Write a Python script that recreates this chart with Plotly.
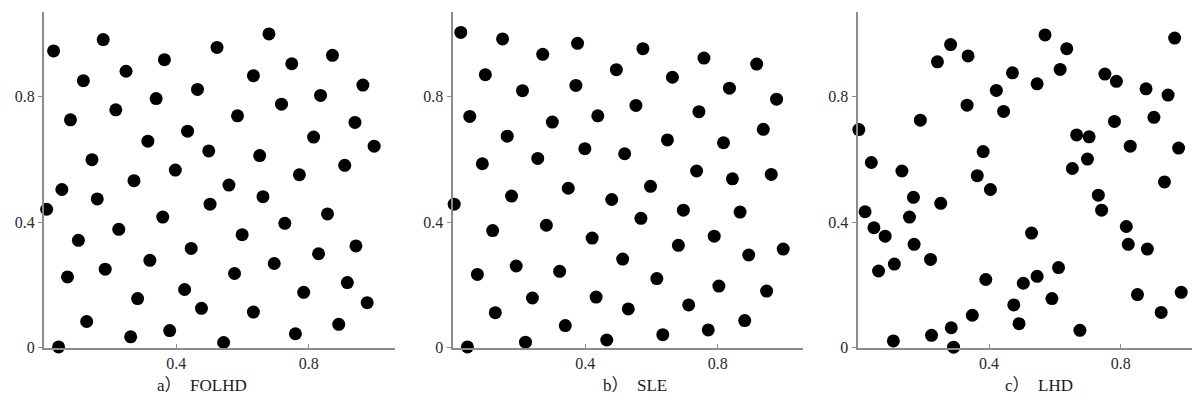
import plotly.graph_objects as go

# ---- data ----
folhd_x = [0.029, 0.179, 0.364, 0.523, 0.680, 0.749, 0.872, 0.119, 0.248, 0.633,
           0.464, 0.964, 0.339, 0.836, 0.217, 0.080, 0.585, 0.718, 0.940, 0.434,
           0.314, 0.815, 0.998, 0.145, 0.498, 0.652, 0.397, 0.272, 0.772, 0.909,
           0.559, 0.054, 0.662, 0.161, 0.502, 0.008, 0.359, 0.857, 0.728, 0.226,
           0.104, 0.599, 0.445, 0.943, 0.830, 0.320, 0.696, 0.071, 0.185, 0.576,
           0.425, 0.917, 0.785, 0.283, 0.476, 0.633, 0.977, 0.129, 0.891, 0.380,
           0.760, 0.262, 0.543, 0.044]
folhd_y = [0.946, 0.982, 0.918, 0.957, 1.000, 0.905, 0.932, 0.851, 0.881, 0.867,
           0.823, 0.837, 0.794, 0.804, 0.758, 0.726, 0.739, 0.776, 0.718, 0.690,
           0.658, 0.671, 0.642, 0.599, 0.627, 0.612, 0.566, 0.532, 0.551, 0.581,
           0.518, 0.504, 0.481, 0.474, 0.457, 0.441, 0.416, 0.426, 0.396, 0.377,
           0.342, 0.360, 0.316, 0.324, 0.299, 0.278, 0.268, 0.225, 0.250, 0.236,
           0.185, 0.207, 0.176, 0.156, 0.125, 0.113, 0.143, 0.083, 0.074, 0.054,
           0.044, 0.034, 0.016, 0.002]

sle_x = [0.025, 0.151, 0.377, 0.272, 0.574, 0.758, 0.917, 0.099, 0.494, 0.663,
         0.372, 0.211, 0.835, 0.977, 0.553, 0.052, 0.438, 0.743, 0.301, 0.165,
         0.937, 0.648, 0.399, 0.817, 0.519, 0.090, 0.257, 0.736, 0.844, 0.961,
         0.349, 0.597, 0.178, 0.480, 0.005, 0.696, 0.867, 0.568, 0.283, 0.121,
         0.789, 0.421, 0.681, 0.997, 0.893, 0.513, 0.192, 0.075, 0.323, 0.616,
         0.803, 0.947, 0.241, 0.433, 0.129, 0.530, 0.712, 0.340, 0.881, 0.771,
         0.634, 0.220, 0.465, 0.045]
sle_y = [1.005, 0.984, 0.970, 0.935, 0.953, 0.923, 0.904, 0.870, 0.886, 0.862,
         0.836, 0.819, 0.827, 0.792, 0.772, 0.737, 0.739, 0.752, 0.719, 0.674,
         0.696, 0.662, 0.634, 0.653, 0.618, 0.586, 0.603, 0.563, 0.538, 0.552,
         0.508, 0.514, 0.483, 0.472, 0.457, 0.438, 0.432, 0.412, 0.390, 0.373,
         0.355, 0.349, 0.326, 0.314, 0.295, 0.282, 0.260, 0.233, 0.243, 0.220,
         0.196, 0.180, 0.158, 0.161, 0.111, 0.123, 0.136, 0.070, 0.086, 0.056,
         0.041, 0.017, 0.024, 0.002]

lhd_x = [0.570, 0.964, 0.283, 0.336, 0.636, 0.243, 0.616, 0.471, 0.752, 0.787,
         0.546, 0.877, 0.422, 0.944, 0.333, 0.444, 0.901, 0.191, 0.781, 0.004,
         0.666, 0.704, 0.829, 0.976, 0.382, 0.699, 0.042, 0.135, 0.653, 0.364,
         0.933, 0.404, 0.170, 0.732, 0.253, 0.023, 0.742, 0.158, 0.050, 0.084,
         0.817, 0.529, 0.172, 0.823, 0.881, 0.222, 0.112, 0.064, 0.611, 0.546,
         0.390, 0.504, 0.851, 0.984, 0.591, 0.475, 0.923, 0.349, 0.491, 0.285,
         0.676, 0.225, 0.109, 0.292]
lhd_y = [0.997, 0.987, 0.966, 0.930, 0.953, 0.911, 0.887, 0.876, 0.872, 0.849,
         0.841, 0.825, 0.820, 0.805, 0.773, 0.753, 0.734, 0.725, 0.721, 0.695,
         0.678, 0.672, 0.642, 0.636, 0.625, 0.601, 0.590, 0.563, 0.571, 0.548,
         0.528, 0.504, 0.479, 0.486, 0.460, 0.433, 0.438, 0.416, 0.382, 0.355,
         0.386, 0.365, 0.329, 0.329, 0.314, 0.281, 0.266, 0.244, 0.255, 0.227,
         0.217, 0.205, 0.169, 0.176, 0.156, 0.136, 0.112, 0.103, 0.076, 0.063,
         0.055, 0.039, 0.021, 0.001]

captions = ["a\uff09  FOLHD", "b\uff09  SLE", "c\uff09  LHD"]
x_tick_vals = [0.4, 0.8]
x_tick_text = ["0.4", "0.8"]
y_tick_vals = [0, 0.4, 0.8]
y_tick_text = ["0", "0.4", "0.8"]

# ---- layout geometry ----
W, H = 1200, 402
panels = [
    # (data x, data y, left px, right px, px per unit)
    (folhd_x, folhd_y, 36.0, 386.7, 330.8),
    (sle_x, sle_y, 444.5, 795.0, 331.7),
    (lhd_x, lhd_y, 849.5, 1200.0, 329.0),
]
y_bottom_px, y_top_px, y_scale = 347.3, 4.0, 320.75
caption_x_px = [194, 627, 1031]
caption_y_px = 386

font_fam = "Liberation Serif, Noto Sans CJK SC, serif"
axis_col = "#8c8c8c"
text_col = "#2a2a2a"

fig = go.Figure()
layout = dict(
    width=W, height=H, margin=dict(l=0, r=0, t=0, b=0),
    plot_bgcolor="white", paper_bgcolor="white", showlegend=False,
    font=dict(family=font_fam, size=16, color=text_col),
)
annotations = []
for i, (xs, ys, lpx, rpx, sx) in enumerate(panels, start=1):
    xa = "x" if i == 1 else f"x{i}"
    ya = "y" if i == 1 else f"y{i}"
    fig.add_trace(go.Scatter(
        x=xs, y=ys, mode="markers", xaxis=xa, yaxis=ya, cliponaxis=False,
        marker=dict(size=13, color="black", line=dict(width=0)),
    ))
    xkey = "xaxis" if i == 1 else f"xaxis{i}"
    ykey = "yaxis" if i == 1 else f"yaxis{i}"
    layout[xkey] = dict(
        domain=[lpx / W, rpx / W], range=[0, (rpx - lpx) / sx],
        anchor=ya, showgrid=False, zeroline=False, showline=True,
        linecolor=axis_col, linewidth=2, ticks="inside", ticklen=4,
        tickcolor=axis_col, tickwidth=1, tickvals=x_tick_vals, ticktext=x_tick_text,
        tickfont=dict(family=font_fam, size=16, color=text_col),
    )
    layout[ykey] = dict(
        domain=[(H - y_bottom_px) / H, (H - y_top_px) / H],
        range=[0, (y_bottom_px - y_top_px) / y_scale],
        anchor=xa, showgrid=False, zeroline=False, showline=True,
        linecolor=axis_col, linewidth=2, ticks="outside", ticklen=4,
        tickcolor=axis_col, tickwidth=1, tickvals=y_tick_vals, ticktext=y_tick_text,
        tickfont=dict(family=font_fam, size=16, color=text_col),
    )
    annotations.append(dict(
        text=captions[i - 1], x=caption_x_px[i - 1] / W, y=(H - caption_y_px) / H,
        xref="paper", yref="paper", showarrow=False, xanchor="center", yanchor="middle",
        font=dict(family=font_fam, size=17, color="#1a1a1a"),
    ))
layout["annotations"] = annotations
fig.update_layout(**layout)
fig.write_html("out.html")
